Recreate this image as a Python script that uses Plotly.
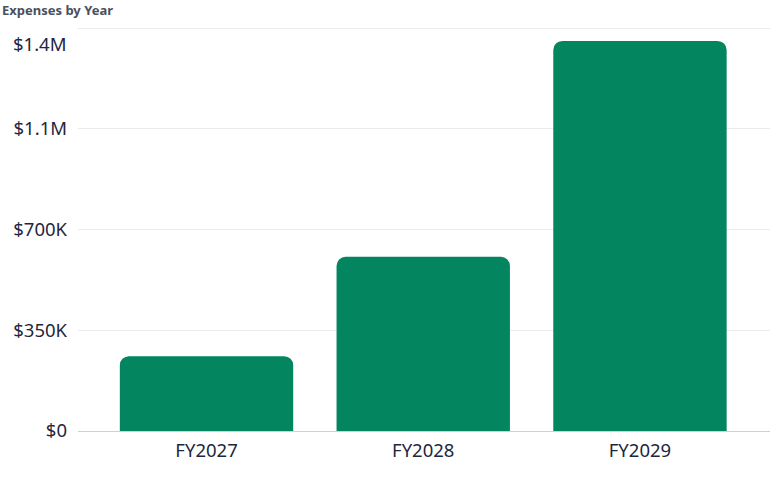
"""Expenses by year bar chart."""

import plotly.graph_objects as go

# Data
years = ["FY2027", "FY2028", "FY2029"]
expenses = [260000, 605000, 1355000]
tick_values = [0, 350000, 700000, 1050000, 1400000]
tick_labels = ["$0", "$350K", "$700K", "$1.1M", "$1.4M"]

FONT = "'Noto Sans', Lato, sans-serif"
TEXT_COLOR = "#1e2640"
TICK_SIZE = 18.5

fig = go.Figure(
    go.Bar(
        x=years,
        y=expenses,
        marker=dict(color="#03865f", line=dict(width=0)),
        hoverinfo="x+y",
    )
)

fig.update_layout(
    width=770,
    height=477,
    margin=dict(l=78, r=0, t=26, b=46),
    paper_bgcolor="white",
    plot_bgcolor="white",
    bargap=0.2,
    barcornerradius=9,
    showlegend=False,
    font=dict(family=FONT, color=TEXT_COLOR, size=TICK_SIZE),
    annotations=[
        dict(
            text="<b>Expenses by Year</b>",
            x=0, y=1, xref="paper", yref="paper",
            xanchor="left", yanchor="top",
            xshift=-78, yshift=27,
            showarrow=False,
            font=dict(size=13, color="#4a4f5e", family=FONT),
        ),
        # top tick label sits a bit below its gridline, as in the source chart
        dict(
            text=tick_labels[-1],
            x=0, y=tick_values[-1], xref="paper", yref="y",
            xanchor="right", yanchor="middle",
            xshift=-10, yshift=-15,
            showarrow=False,
            font=dict(size=TICK_SIZE, color=TEXT_COLOR, family=FONT),
        ),
    ],
)

fig.update_xaxes(
    range=[-0.593, 2.6],
    showgrid=False,
    showline=False,
    ticks="",
    ticklabelstandoff=6,
    tickfont=dict(size=TICK_SIZE, color=TEXT_COLOR),
    fixedrange=True,
)

fig.update_yaxes(
    range=[0, 1407000],
    tickvals=tick_values,
    ticktext=tick_labels[:-1] + [""],
    showgrid=True,
    gridcolor="#ebebeb",
    gridwidth=1,
    zeroline=True,
    zerolinecolor="#cfcfd4",
    zerolinewidth=1,
    ticks="",
    ticklabelstandoff=10,
    tickfont=dict(size=TICK_SIZE, color=TEXT_COLOR),
    fixedrange=True,
)

# drop the page's default body margin so the chart sits at the window corner
fig.write_html(
    "out.html",
    config={"displayModeBar": False},
    post_script="document.body.style.margin='0';",
)
